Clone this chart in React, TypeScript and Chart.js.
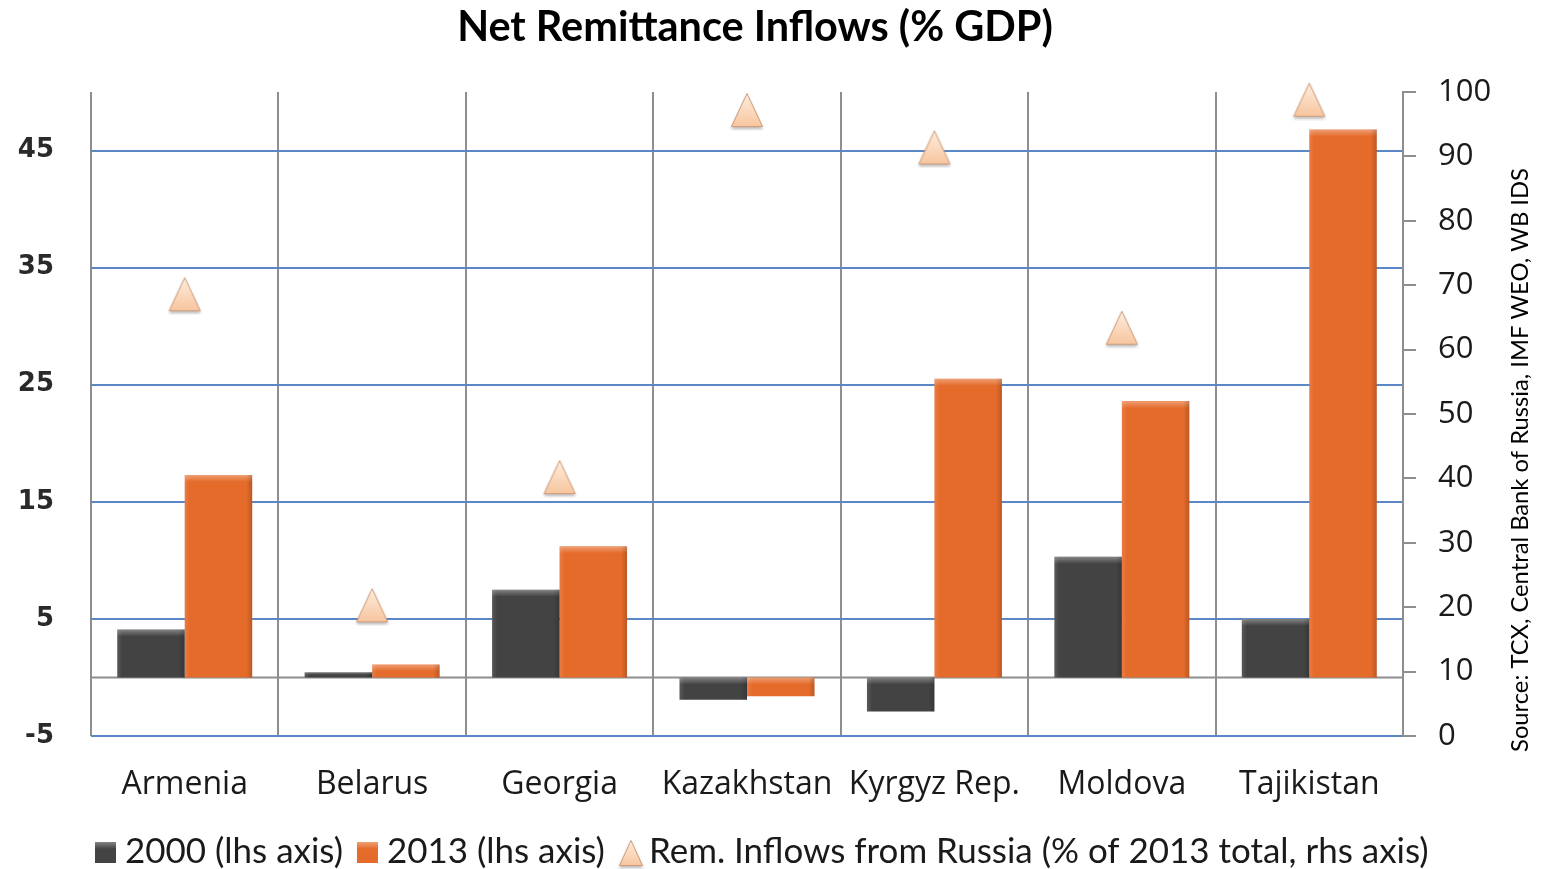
import React, { useEffect, useRef } from 'react';
import { Chart, registerables } from 'chart.js';

Chart.register(...registerables);

const categories = ['Armenia', 'Belarus', 'Georgia', 'Kazakhstan', 'Kyrgyz Rep.', 'Moldova', 'Tajikistan'];
const values2000 = [4.1, 0.45, 7.5, -1.9, -2.9, 10.3, 5.0];
const values2013 = [17.3, 1.1, 11.2, -1.6, 25.5, 23.6, 46.8];
const russiaShare = [68.6, 20.3, 40.2, 97.2, 91.4, 63.4, 98.8];
const leftTicks = [-5, 5, 15, 25, 35, 45];
const rightTicks = [0, 10, 20, 30, 40, 50, 60, 70, 80, 90, 100];
const seriesLabels = ['2000 (lhs axis)', '2013 (lhs axis)', 'Rem. Inflows from Russia (% of 2013 total, rhs axis)'];
const titleText = 'Net Remittance Inflows (% GDP)';
const sourceText = 'Source: TCX, Central Bank of Russia, IMF WEO, WB IDS';

const DARK = '#434343';
const ORANGE = '#E56B2B';
const BLUE_GRID = '#5B87C6';
const GRAY = '#8E8E8E';
const FONT = 'Lato, "Open Sans", sans-serif';
const TICK_FONT = '"Open Sans", Lato, sans-serif';

function makeTriangle(w: number, h: number): HTMLCanvasElement {
  const m = 4;
  const c = document.createElement('canvas');
  c.width = w + 2 * m;
  c.height = h + 2 * m;
  const ctx = c.getContext('2d')!;
  ctx.save();
  ctx.shadowColor = 'rgba(0,0,0,0.28)';
  ctx.shadowBlur = 3;
  ctx.shadowOffsetY = 2;
  const g = ctx.createLinearGradient(0, m, 0, m + h);
  g.addColorStop(0, '#FEEEDF');
  g.addColorStop(1, '#F7C59E');
  ctx.beginPath();
  ctx.moveTo(m + w / 2, m);
  ctx.lineTo(m + w, m + h);
  ctx.lineTo(m, m + h);
  ctx.closePath();
  ctx.fillStyle = g;
  ctx.fill();
  ctx.restore();
  ctx.strokeStyle = '#D19C7A';
  ctx.lineWidth = 1;
  ctx.beginPath();
  ctx.moveTo(m + w / 2, m + 0.5);
  ctx.lineTo(m + w - 0.5, m + h - 0.5);
  ctx.lineTo(m + 0.5, m + h - 0.5);
  ctx.closePath();
  ctx.stroke();
  return c;
}

function fitFont(ctx: CanvasRenderingContext2D, text: string, weight: string, family: string, target: number): number {
  ctx.font = `${weight} 100px ${family}`;
  const w = ctx.measureText(text).width;
  return (100 * target) / w;
}

export default function App() {
  const ref = useRef<HTMLCanvasElement | null>(null);

  useEffect(() => {
    document.body.style.margin = '0';
    const canvas = ref.current;
    if (!canvas) return;
    const tri = makeTriangle(32, 34);
    const triLegend = makeTriangle(24, 26);

    const decor = {
      id: 'decor',
      beforeDatasetsDraw(chart: any) {
        const { ctx, chartArea, scales } = chart;
        const y0 = scales.y.getPixelForValue(0);
        ctx.save();
        ctx.strokeStyle = GRAY;
        ctx.lineWidth = 2;
        ctx.beginPath();
        ctx.moveTo(chartArea.left, y0);
        ctx.lineTo(chartArea.right, y0);
        ctx.stroke();
        ctx.restore();
      },
      afterDatasetDraw(chart: any, args: any) {
        const meta = args.meta;
        if (meta.type !== 'bar') return;
        const ctx = chart.ctx;
        ctx.save();
        meta.data.forEach((el: any) => {
          const p = el.getProps(['x', 'y', 'base', 'width'], true);
          const left = p.x - p.width / 2;
          const top = Math.min(p.y, p.base);
          const bottom = Math.max(p.y, p.base);
          const h = bottom - top;
          const band = Math.min(7, h / 2);
          const gt = ctx.createLinearGradient(0, top, 0, top + band);
          gt.addColorStop(0, 'rgba(255,255,255,0.35)');
          gt.addColorStop(1, 'rgba(255,255,255,0)');
          ctx.fillStyle = gt;
          ctx.fillRect(left, top, p.width, band);
          const gr = ctx.createLinearGradient(left + p.width - 6, 0, left + p.width, 0);
          gr.addColorStop(0, 'rgba(0,0,0,0)');
          gr.addColorStop(1, 'rgba(0,0,0,0.18)');
          ctx.fillStyle = gr;
          ctx.fillRect(left + p.width - 6, top, 6, h);
          const gl = ctx.createLinearGradient(left, 0, left + 5, 0);
          gl.addColorStop(0, 'rgba(255,255,255,0.12)');
          gl.addColorStop(1, 'rgba(255,255,255,0)');
          ctx.fillStyle = gl;
          ctx.fillRect(left, top, 5, h);
        });
        ctx.restore();
      },
      afterDraw(chart: any) {
        const ctx: CanvasRenderingContext2D = chart.ctx;
        ctx.save();
        // Title
        const ts = fitFont(ctx, titleText, 'bold', FONT, 596);
        ctx.font = `bold ${ts}px ${FONT}`;
        ctx.fillStyle = '#000';
        ctx.textAlign = 'center';
        ctx.textBaseline = 'middle';
        ctx.fillText(titleText, 755, 28);

        // Legend
        const ls = fitFont(ctx, seriesLabels[2], 'normal', FONT, 780);
        ctx.font = `normal ${ls}px ${FONT}`;
        ctx.textAlign = 'left';
        ctx.textBaseline = 'middle';
        ctx.fillStyle = '#1a1a1a';
        const ly = 852;
        let x = 95;
        const boxColors = [DARK, ORANGE];
        for (let i = 0; i < 2; i++) {
          ctx.fillStyle = boxColors[i];
          ctx.fillRect(x, ly - 10, 21, 21);
          const g = ctx.createLinearGradient(0, ly - 10, 0, ly - 3);
          g.addColorStop(0, 'rgba(255,255,255,0.35)');
          g.addColorStop(1, 'rgba(255,255,255,0)');
          ctx.fillStyle = g;
          ctx.fillRect(x, ly - 10, 21, 7);
          x += 30;
          ctx.fillStyle = '#1a1a1a';
          ctx.fillText(seriesLabels[i], x, ly);
          x += ctx.measureText(seriesLabels[i]).width + 14;
        }
        ctx.drawImage(triLegend, x - 4, ly - 13 - 5 + 2);
        x += 30;
        ctx.fillText(seriesLabels[2], x, ly);

        // Source (rotated)
        const ss = fitFont(ctx, sourceText, 'normal', FONT, 584);
        ctx.font = `normal ${ss}px ${FONT}`;
        ctx.translate(1520, 460);
        ctx.rotate(-Math.PI / 2);
        ctx.textAlign = 'center';
        ctx.textBaseline = 'middle';
        ctx.fillStyle = '#000';
        ctx.fillText(sourceText, 0, 0);
        ctx.restore();
      },
    };

    const chart = new Chart(canvas, {
      type: 'bar',
      data: {
        labels: categories,
        datasets: [
          {
            type: 'line',
            label: seriesLabels[2],
            data: russiaShare,
            yAxisID: 'y1',
            showLine: false,
            pointStyle: tri as any,
            pointRadius: 17,
            clip: false,
            order: 0,
          } as any,
          {
            type: 'bar',
            label: seriesLabels[0],
            data: values2000,
            backgroundColor: DARK,
            yAxisID: 'y',
            barPercentage: 1,
            categoryPercentage: 0.72,
            order: 1,
          },
          {
            type: 'bar',
            label: seriesLabels[1],
            data: values2013,
            backgroundColor: ORANGE,
            yAxisID: 'y',
            barPercentage: 1,
            categoryPercentage: 0.72,
            order: 1,
          },
        ],
      },
      options: {
        responsive: false,
        animation: false,
        layout: { padding: { top: 92, left: 0, right: 0, bottom: 0 } },
        plugins: {
          legend: { display: false },
          title: { display: false },
          tooltip: { enabled: false },
        },
        scales: {
          x: {
            grid: { offset: true, color: GRAY, lineWidth: 2, drawTicks: false },
            border: { display: false },
            ticks: { font: { family: TICK_FONT, size: 32 }, color: '#1a1a1a', padding: 30, maxRotation: 0, autoSkip: false },
            afterFit: (s: any) => { s.height = 133; },
          },
          y: {
            position: 'left',
            min: -5,
            max: 50,
            afterBuildTicks: (s: any) => { s.ticks = leftTicks.map((v) => ({ value: v })); },
            grid: { color: BLUE_GRID, lineWidth: 2, drawTicks: false },
            border: { display: false },
            ticks: { font: { family: '"DejaVu Sans"', size: 26, weight: 'bold' }, color: '#2a2a2a', padding: 37 },
            afterFit: (s: any) => { s.width = 91; },
          },
          y1: {
            position: 'right',
            min: 0,
            max: 100,
            afterBuildTicks: (s: any) => { s.ticks = rightTicks.map((v) => ({ value: v })); },
            grid: { drawOnChartArea: false, drawTicks: true, tickLength: 13, color: GRAY, lineWidth: 2 },
            border: { display: true, color: GRAY, width: 2 },
            ticks: { font: { family: TICK_FONT, size: 31 }, color: '#1a1a1a', padding: 22 },
            afterFit: (s: any) => { s.width = 142; },
          },
        },
      },
      plugins: [decor],
    });
    return () => chart.destroy();
  }, []);

  return (
    <div style={{ width: 1545, height: 869 }}>
      <canvas ref={ref} width={1545} height={869} style={{ display: 'block' }} />
    </div>
  );
}
